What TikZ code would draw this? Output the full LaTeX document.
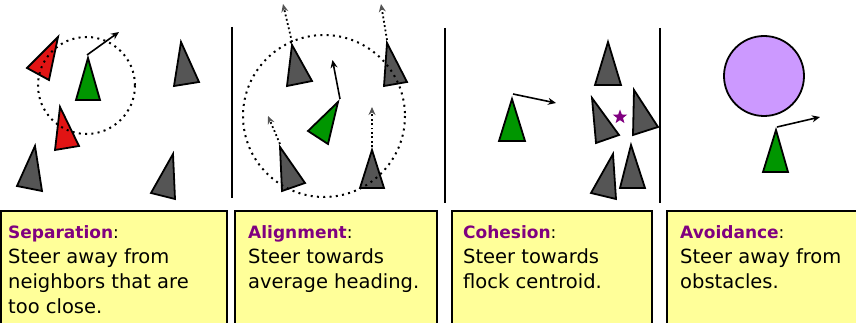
\documentclass[tikz,border=0pt]{standalone}
\usepackage{fontspec}
\setmainfont{DejaVu Sans}
\usetikzlibrary{arrows.meta,shapes.geometric}
\definecolor{boidgreen}{RGB}{0,150,0}
\definecolor{boidred}{RGB}{225,20,20}
\definecolor{boidgray}{RGB}{85,85,85}
\definecolor{notefill}{RGB}{255,255,153}
\definecolor{titlepurple}{RGB}{128,0,128}
\definecolor{obstacle}{RGB}{204,153,255}
\begin{document}
\begin{tikzpicture}[x=1pt,y=-1pt,
  boid/.style={draw=black,line width=1.8pt,line join=miter},
  greenboid/.style={boid,fill=boidgreen},
  redboid/.style={boid,fill=boidred},
  grayboid/.style={boid,fill=boidgray},
  nbhood/.style={line width=2pt,dash pattern=on 2pt off 4.3pt},
  steer/.style={line width=1.6pt,-{Stealth[length=8pt,width=7pt]}},
  heading/.style={line width=1.8pt,dash pattern=on 1.8pt off 2.6pt,
     -{Stealth[length=8pt,width=7pt,color=boidgray]}},
  divider/.style={line width=2pt},
  note/.style={draw=black,line width=2.2pt,fill=notefill},
  titletext/.style={anchor=base west,inner sep=0pt,font=\fontsize{17}{20}\selectfont},
  bodytext/.style={anchor=base west,inner sep=0pt,font=\fontsize{19.5}{24}\selectfont},
]
\useasboundingbox (0,0) rectangle (856,323);

% dividers
\draw[divider] (232,27) -- (232,198);
\draw[divider] (445,28) -- (445,203);
\draw[divider] (660,28) -- (660,203);

% ---------- Separation ----------
\draw[redboid] (58,37) -- (27,68) -- (49,80) -- cycle;
\draw[redboid] (60,107) -- (55,150) -- (79,146) -- cycle;
\draw[greenboid] (88,58) -- (76,100) -- (100,100) -- cycle;
\draw[grayboid] (181,42) -- (174,86) -- (199,82) -- cycle;
\draw[grayboid] (35,146) -- (17,186) -- (42,191) -- cycle;
\draw[grayboid] (173,154) -- (151,193) -- (175,199) -- cycle;
\draw[nbhood] (86.5,85.5) circle[radius=48.5];
\coordinate (s1) at (87,55);
\coordinate (s2) at (119,32);
\draw[steer] (s1) -- (s2);

% ---------- Alignment ----------
\draw[grayboid] (292,45) -- (287,86) -- (312,81) -- cycle;
\draw[grayboid] (387,43) -- (384,86) -- (407,82) -- cycle;
\draw[grayboid] (280,147) -- (282,191) -- (305,183) -- cycle;
\draw[grayboid] (372,150) -- (360,188) -- (384,188) -- cycle;
\draw[greenboid] (338,102) -- (308,131) -- (328,144) -- cycle;
\draw[nbhood] (324,116) circle[radius=81];
\coordinate (a1) at (292,42);
\coordinate (a1h) at (283,4);
\coordinate (a2) at (387,40);
\coordinate (a2h) at (381,4);
\coordinate (a3) at (280,144);
\coordinate (a3h) at (268,116);
\coordinate (a4) at (372,147);
\coordinate (a4h) at (372,107);
\draw[heading] (a1) -- (a1h);
\draw[heading] (a2) -- (a2h);
\draw[heading] (a3) -- (a3h);
\draw[heading] (a4) -- (a4h);
\coordinate (ag1) at (340,99);
\coordinate (ag2) at (332.5,60);
\draw[steer] (ag1) -- (ag2);

% ---------- Cohesion ----------
\draw[greenboid] (512,99) -- (499,141) -- (525,141) -- cycle;
\coordinate (c1) at (513,94);
\coordinate (c2) at (556,103);
\draw[steer] (c1) -- (c2);
\draw[grayboid] (608,42) -- (595,85) -- (621,85) -- cycle;
\draw[grayboid] (592,98) -- (596,143) -- (619,135) -- cycle;
\draw[grayboid] (634,90) -- (633,135) -- (658,127) -- cycle;
\draw[grayboid] (613,154) -- (591,193) -- (616,199) -- cycle;
\draw[grayboid] (631,145) -- (620,188) -- (645,188) -- cycle;
\node[star,star points=5,star point ratio=2.4,fill=titlepurple,inner sep=0pt,minimum size=15pt] (centroid) at (620,117) {};

% ---------- Avoidance ----------
\node[circle,draw=black,line width=1.8pt,fill=obstacle,minimum size=80pt,inner sep=0pt] (obst) at (764,76) {};
\draw[greenboid] (776,130) -- (763,172) -- (788,172) -- cycle;
\coordinate (v1) at (777,127);
\coordinate (v2) at (820,117);
\draw[steer] (v1) -- (v2);

% ---------- notes ----------
\draw[note] (1,211) rectangle (227,332);
\draw[note] (235,211) rectangle (437,332);
\draw[note] (452,211) rectangle (652,332);
\draw[note] (667,211) rectangle (862,332);

\node[titletext] (t1) at (8,238) {\textcolor{titlepurple}{\textbf{Separation}}:};
\node[bodytext] (b1a) at (8,263) {Steer away from};
\node[bodytext] (b1b) at (8,288) {neighbors that are};
\node[bodytext] (b1c) at (8,313) {too close.};

\node[titletext] (t2) at (248,238) {\textcolor{titlepurple}{\textbf{Alignment}}:};
\node[bodytext] (b2a) at (248,263) {Steer towards};
\node[bodytext] (b2b) at (248,288) {average heading.};

\node[titletext] (t3) at (463,238) {\textcolor{titlepurple}{\textbf{Cohesion}}:};
\node[bodytext] (b3a) at (463,263) {Steer towards};
\node[bodytext] (b3b) at (463,288) {flock centroid.};

\node[titletext] (t4) at (680,238) {\textcolor{titlepurple}{\textbf{Avoidance}}:};
\node[bodytext] (b4a) at (680,263) {Steer away from};
\node[bodytext] (b4b) at (680,288) {obstacles.};
\end{tikzpicture}
\end{document}
